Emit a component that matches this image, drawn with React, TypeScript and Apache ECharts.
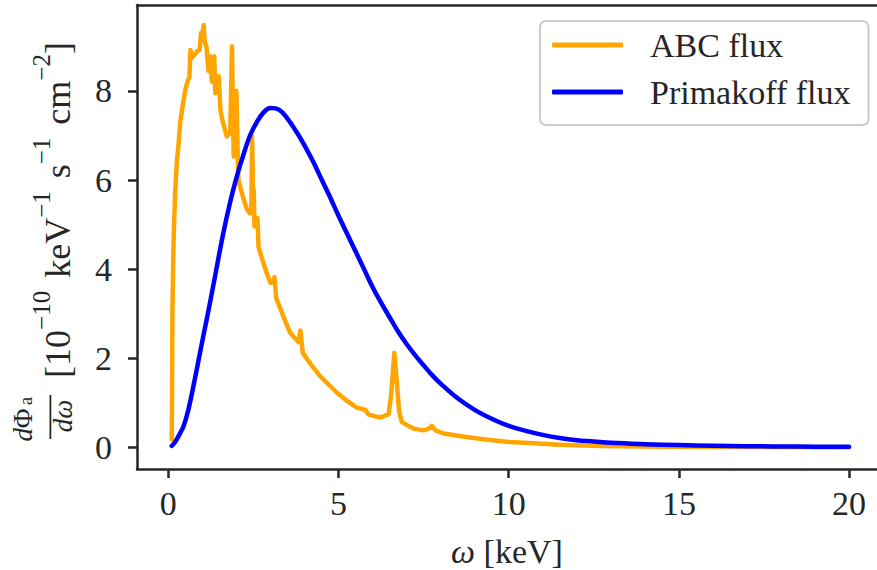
import React, { useEffect, useRef } from "react";
import * as echarts from "echarts";

// ---------- data ----------
const abcOmega = [0.10, 0.11, 0.12, 0.14, 0.16, 0.20, 0.25, 0.30, 0.35, 0.45, 0.50, 0.58, 0.62, 0.65, 0.70, 0.76, 0.84, 0.92, 0.96, 0.99, 1.04, 1.07, 1.12, 1.18, 1.23, 1.28, 1.35, 1.38, 1.45, 1.48, 1.53, 1.60, 1.72, 1.82, 1.87, 1.92, 1.97, 2.00, 2.04, 2.06, 2.20, 2.31, 2.40, 2.44, 2.46, 2.49, 2.51, 2.53, 2.56, 2.62, 2.65, 2.70, 2.85, 3.00, 3.08, 3.12, 3.17, 3.40, 3.58, 3.83, 3.88, 3.95, 4.20, 4.46, 4.95, 5.25, 5.54, 5.79, 5.88, 6.05, 6.23, 6.47, 6.55, 6.64, 6.72, 6.78, 6.86, 6.96, 7.20, 7.50, 7.65, 7.74, 7.85, 8.09, 8.60, 9.26, 10.0, 10.73, 11.5, 12.7, 14.6, 17.0, 20.0];
const abcFlux = [0.18, 1.2, 3.0, 4.0, 4.8, 5.7, 6.4, 6.8, 7.3, 7.8, 8.03, 8.25, 8.3, 8.92, 8.75, 8.8, 8.89, 8.92, 9.3, 9.2, 9.48, 9.1, 9.0, 8.45, 8.78, 8.21, 8.78, 7.95, 8.0, 8.33, 7.58, 7.3, 6.98, 7.06, 9.0, 6.53, 6.6, 8.0, 6.5, 6.0, 5.6, 5.34, 5.25, 5.3, 6.98, 5.7, 5.78, 4.96, 5.11, 5.15, 4.5, 4.37, 4.0, 3.69, 3.7, 3.82, 3.35, 2.9, 2.57, 2.36, 2.62, 2.12, 1.85, 1.6, 1.23, 1.04, 0.89, 0.84, 0.74, 0.7, 0.67, 0.74, 1.2, 2.12, 1.4, 0.8, 0.57, 0.52, 0.42, 0.38, 0.42, 0.48, 0.38, 0.31, 0.25, 0.18, 0.12, 0.09, 0.06, 0.03, 0.015, 0.005, 0.0];

const primakoffOmega = [0.10, 0.20, 0.30, 0.45, 0.60, 0.75, 0.90, 1.05, 1.20, 1.40, 1.60, 1.80, 2.00, 2.20, 2.40, 2.60, 2.80, 3.00, 3.25, 3.50, 3.75, 4.00, 4.25, 4.50, 4.75, 5.00, 5.25, 5.50, 5.75, 6.00, 6.25, 6.50, 6.75, 7.00, 7.25, 7.50, 7.75, 8.00, 8.50, 9.00, 9.50, 10.00, 10.50, 11.00, 11.50, 12.00, 12.50, 13.00, 14.00, 15.00, 16.00, 17.00, 18.50, 20.00];
const primakoffFlux = [0.03, 0.12, 0.25, 0.48, 0.88, 1.42, 2.0, 2.58, 3.15, 3.95, 4.75, 5.45, 6.05, 6.55, 7.0, 7.3, 7.52, 7.62, 7.58, 7.38, 7.1, 6.78, 6.42, 6.02, 5.62, 5.2, 4.8, 4.4, 4.0, 3.6, 3.25, 2.92, 2.6, 2.32, 2.07, 1.84, 1.62, 1.43, 1.1, 0.84, 0.64, 0.48, 0.37, 0.28, 0.21, 0.16, 0.13, 0.1, 0.07, 0.05, 0.035, 0.025, 0.016, 0.01];

const seriesNames = ["ABC flux", "Primakoff flux"];
const xTicks = [0, 5, 10, 15, 20];
const yTicks = [0, 2, 4, 6, 8];
const xTitleVar = "ω";
const xTitleUnit = "[keV]";
const yUnitParts = [
  { t: "[10" },
  { t: "−10", sup: true },
  { t: "keV", gap: true },
  { t: "−1", sup: true },
  { t: "s", gap: true },
  { t: "−1", sup: true },
  { t: "cm", gap: true },
  { t: "−2", sup: true },
  { t: "]" },
];

const FONT = '"Liberation Serif", "Times New Roman", serif';
const INK = "#262626";

export default function App() {
  const ref = useRef<HTMLDivElement>(null);

  useEffect(() => {
    const el = ref.current!;
    const chart = echarts.init(el, null, { renderer: "svg" });

    const abcData = abcOmega.map((x, i) => [x, abcFlux[i]]);
    const priData = primakoffOmega.map((x, i) => [x, primakoffFlux[i]]);

    const ctx = document.createElement("canvas").getContext("2d")!;
    const measure = (t: string, size: number, style = "normal") => {
      ctx.font = `${style} ${size}px ${FONT}`;
      return ctx.measureText(t).width;
    };

    // ----- rotated y-axis title -----
    const mainSize = 36;
    const supSize = 25;
    const gapW = 13;
    let total = 0;
    const widths = yUnitParts.map((p) => {
      const w = measure(p.t, p.sup ? supSize : mainSize);
      total += w + (p.gap ? gapW : 0);
      return w;
    });
    const centerY = 210;
    let cursor = centerY + total / 2;
    const rot = Math.PI / 2;
    const yTitleEls: any[] = [];
    yUnitParts.forEach((p, i) => {
      if (p.gap) cursor -= gapW;
      yTitleEls.push({
        type: "text",
        x: p.sup ? 41 : 57.5,
        y: cursor,
        rotation: rot,
        style: {
          text: p.t,
          fontSize: p.sup ? supSize : mainSize,
          fontFamily: FONT,
          fill: INK,
          align: "left",
          verticalAlign: "middle",
        },
      });
      cursor -= widths[i];
    });
    // fraction dΦ_a / dω
    yTitleEls.push(
      {
        type: "text",
        x: 23,
        y: 425,
        rotation: rot,
        style: {
          text: "{i|d}Φ",
          fontSize: 27,
          fontFamily: FONT,
          fill: INK,
          align: "center",
          verticalAlign: "middle",
          rich: { i: { fontStyle: "italic", fontSize: 27, fontFamily: FONT, fill: INK } },
        },
      },
      {
        type: "text",
        x: 25,
        y: 401,
        rotation: rot,
        style: {
          text: "a",
          fontSize: 19,
          fontFamily: FONT,
          fill: INK,
          align: "center",
          verticalAlign: "middle",
        },
      },
      {
        type: "rect",
        shape: { x: 49.5, y: 395, width: 1.8, height: 44 },
        style: { fill: INK },
      },
      {
        type: "text",
        x: 63,
        y: 416,
        rotation: rot,
        style: {
          text: "dω",
          fontSize: 27,
          fontFamily: FONT,
          fontStyle: "italic",
          fill: INK,
          align: "center",
          verticalAlign: "middle",
        },
      }
    );

    // ----- x-axis title -----
    const xTitleEl = {
      type: "text",
      x: 507,
      y: 551,
      style: {
        text: `{i|${xTitleVar}}\u00A0${xTitleUnit}`,
        fontSize: 34,
        fontFamily: FONT,
        fill: INK,
        align: "center",
        verticalAlign: "middle",
        rich: { i: { fontStyle: "italic", fontSize: 34, fontFamily: FONT, fill: INK } },
      },
    };

    const axisLine = { show: true, onZero: false, lineStyle: { color: INK, width: 2.5 } };
    const labelStyle = { fontSize: 34, fontFamily: FONT, color: INK };

    chart.setOption({
      animation: false,
      backgroundColor: "#ffffff",
      grid: { left: 137, right: 0, top: 5, bottom: 101, outerBoundsMode: "none" },
      xAxis: [
        {
          type: "value",
          min: -0.92,
          max: 20.82,
          axisLine,
          axisTick: { show: true, length: 9, lineStyle: { color: INK, width: 2.5 }, customValues: xTicks },
          axisLabel: { ...labelStyle, margin: 17, customValues: xTicks, formatter: (v: number) => String(v) },
          splitLine: { show: false },
        },
        {
          type: "value",
          position: "top",
          min: -0.92,
          max: 20.82,
          axisLine,
          axisTick: { show: false },
          axisLabel: { show: false },
          splitLine: { show: false },
        },
      ],
      yAxis: {
        type: "value",
        min: -0.487,
        max: 9.93,
        axisLine,
        axisTick: { show: true, length: 9, lineStyle: { color: INK, width: 2.5 }, customValues: yTicks },
        axisLabel: { ...labelStyle, margin: 25, customValues: yTicks, formatter: (v: number) => String(v) },
        splitLine: { show: false },
      },
      legend: {
        left: 540,
        top: 21,
        orient: "vertical",
        icon: "roundRect",
        itemWidth: 71,
        itemHeight: 5,
        itemGap: 9,
        padding: [5, 18, 14, 12],
        borderColor: "#cccccc",
        borderWidth: 2,
        borderRadius: 6,
        backgroundColor: "rgba(255,255,255,0.8)",
        textStyle: { fontSize: 34, fontFamily: FONT, color: INK, lineHeight: 38, padding: [0, 0, 0, 22] },
        data: seriesNames,
      },
      series: [
        {
          type: "line",
          name: seriesNames[0],
          data: abcData,
          symbol: "none",
          lineStyle: { color: "#FFA500", width: 4.5, cap: "round", join: "round" },
          itemStyle: { color: "#FFA500" },
          z: 2,
        },
        {
          type: "line",
          name: seriesNames[1],
          data: priData,
          symbol: "none",
          smooth: 0.4,
          lineStyle: { color: "#0000FF", width: 4.5, cap: "round", join: "round" },
          itemStyle: { color: "#0000FF" },
          z: 3,
        },
      ],
      graphic: [...yTitleEls, xTitleEl],
    });

    return () => chart.dispose();
  }, []);

  return (
    <div
      ref={ref}
      style={{ position: "fixed", left: 0, top: 0, width: 877, height: 570, background: "#fff" }}
    />
  );
}
